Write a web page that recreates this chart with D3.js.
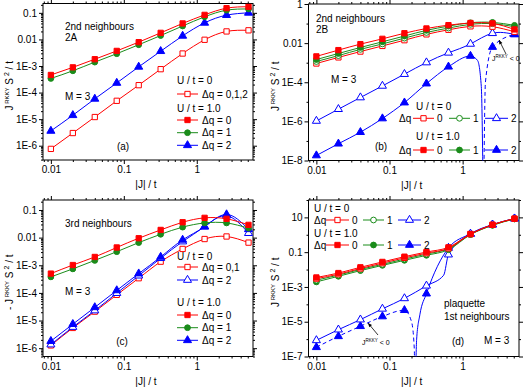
<!DOCTYPE html>
<html>
<head>
<meta charset="utf-8">
<script src="https://cdn.jsdelivr.net/npm/d3@7"></script>
<style>
  body { margin: 0; background: #fff; }
  text { font-family: "Liberation Sans", Arial, Helvetica, sans-serif; }
</style>
</head>
<body>
<div id="app"></div>
<script>
const WIDTH = 523;
const HEIGHT = 390;
const FONT_SIZE = 10;
const RED = "#ff0000";
const GREEN = "#1a8c1a";
const BLUE = "#0000ff";

// |J| / t values where the markers sit
const J = [0.01, 0.02, 0.04, 0.08, 0.16, 0.32, 0.64, 1.28, 2.56, 5.12];
const X_DOMAIN = [0.0078, 5.9];
const X_TICKS = [0.01, 0.1, 1];
const X_TICK_LABELS = ["0.01", "0.1", "1"];

// (a) 2nd neighbours 2A
const A_U0 = [7.6e-7, 3.0e-6, 1.2e-5, 4.9e-5, 1.9e-4, 7.6e-4, 2.95e-3, 9.7e-3, 0.020, 0.022];
const A_U1_Q0 = [4.6e-4, 8.9e-4, 1.8e-3, 3.7e-3, 7.9e-3, 0.0177, 0.040, 0.084, 0.15, 0.17];
const A_U1_Q1 = [3.4e-4, 6.6e-4, 1.4e-3, 2.9e-3, 6.3e-3, 0.014, 0.032, 0.071, 0.126, 0.14];
const A_U1_Q2 = [3.6e-6, 1.4e-5, 5.8e-5, 2.3e-4, 9.3e-4, 3.6e-3, 0.0136, 0.042, 0.082, 0.10];
const A_Y_TICKS = [1e-6, 1e-5, 1e-4, 1e-3, 0.01, 0.1];
const A_Y_LABELS = ["1E-6", "1E-5", "1E-4", "1E-3", "0.01", "0.1"];

// (b) 2nd neighbours 2B
const B_U0_Q0 = [9.1e-4, 1.86e-3, 3.7e-3, 7.2e-3, 0.0141, 0.028, 0.048, 0.072, 0.069, 0.038];
const B_U0_Q1 = [1.15e-3, 2.3e-3, 4.8e-3, 9.1e-3, 0.018, 0.035, 0.059, 0.091, 0.098, 0.069];
const B_U0_Q2 = [1.05e-6, 4.2e-6, 1.66e-5, 6.5e-5, 2.6e-4, 1.02e-3, 3.2e-3, 9.1e-3, 0.032, 0.028];
const B_U1_Q0 = [2.1e-3, 4.4e-3, 8.9e-3, 0.0166, 0.032, 0.056, 0.083, 0.107, 0.102, 0.050];
const B_U1_Q1 = [1.45e-3, 2.95e-3, 6.0e-3, 0.0117, 0.023, 0.045, 0.074, 0.11, 0.115, 0.081];
const B_U1_Q2_POS = [1.8e-8, 7.2e-8, 2.8e-7, 1.4e-6, 9.1e-6, 8.5e-5, 6.2e-4, 2.2e-3];
const B_U1_Q2_NEG = [6.3e-3, 0.028];
const B_DIVE_J = [1.6, 1.8, 1.9];
const B_DIVE_V = [1.3e-3, 6e-5, 1e-9];
const B_RISE_J = [1.95, 2.05];
const B_RISE_V = [1e-9, 1e-4];
const B_Y_TICKS = [1e-8, 1e-6, 1e-4, 0.01, 1];
const B_Y_LABELS = ["1E-8", "1E-6", "1E-4", "0.01", "1"];

// (c) 3rd neighbours
const C_U0_Q01 = [1.26e-6, 5.4e-6, 2.1e-5, 8.5e-5, 3.4e-4, 1.35e-3, 3.9e-3, 8.9e-3, 0.011, 6.6e-3];
const C_U0_Q2 = [1.35e-6, 5.8e-6, 2.3e-5, 9.8e-5, 4.2e-4, 1.8e-3, 7.2e-3, 0.025, 0.062, 0.0145];
const C_U1_Q0 = [5.0e-4, 1.02e-3, 2.0e-3, 4.4e-3, 9.5e-3, 0.019, 0.036, 0.052, 0.048, 0.029];
const C_U1_Q1 = [3.8e-4, 7.4e-4, 1.5e-3, 3.1e-3, 6.6e-3, 0.0132, 0.024, 0.034, 0.034, 0.022];
const C_U1_Q2 = [1.8e-6, 7.4e-6, 3.0e-5, 1.23e-4, 5.0e-4, 2.0e-3, 8.3e-3, 0.025, 0.069, 0.020];
const C_Y_TICKS = A_Y_TICKS;
const C_Y_LABELS = A_Y_LABELS;

// (d) plaquette 1st neighbours
const D_U0_Q0 = [3.0e-3, 5.4e-3, 0.0115, 0.0235, 0.047, 0.088, 0.165, 1.08, 3.7, 8.4];
const D_U0_Q1 = [2.45e-3, 4.8e-3, 0.0102, 0.020, 0.040, 0.077, 0.16, 1.05, 3.6, 8.3];
const D_U0_Q2 = [8.5e-7, 3.5e-6, 1.32e-5, 5.5e-5, 2.2e-4, 1.17e-3, 0.072, 1.12, 3.8, 8.5];
const D_U1_Q0 = [3.5e-3, 6.3e-3, 0.0135, 0.0275, 0.055, 0.102, 0.19, 1.12, 3.8, 8.5];
const D_U1_Q1 = [1.95e-3, 4.1e-3, 8.7e-3, 0.0174, 0.034, 0.066, 0.138, 1.02, 3.5, 8.1];
const D_U1_Q2_NEG = [3.4e-7, 1.45e-6, 5.5e-6, 2.0e-5, 4.6e-5];
const D_U1_Q2_POS = [4.1e-4, 0.174, 1.12, 3.8, 8.5];
const D_KINK_J = [0.55];
const D_KINK_V = [4.7e-3];
const D_DIVE_J = [0.2, 0.218, 0.222];
const D_DIVE_V = [1e-5, 3e-7, 1e-9];
const D_RISE_J = [0.226, 0.235, 0.26];
const D_RISE_V = [1e-9, 1e-6, 2.5e-5];
const D_Y_TICKS = [1e-7, 1e-5, 1e-3, 0.1, 10];
const D_Y_LABELS = ["1E-7", "1E-5", "1E-3", "0.1", "10"];

const zip = (xs, ys) => xs.map((x, i) => [x, ys[i]]);

const svg = d3
  .select("#app")
  .append("svg")
  .attr("width", WIDTH)
  .attr("height", HEIGHT)
  .attr("font-size", FONT_SIZE);

const symbols = {
  square: d3.symbol().type(d3.symbolSquare).size(28),
  circle: d3.symbol().type(d3.symbolCircle).size(26),
  triangle: d3.symbol().type(d3.symbolTriangle).size(28),
};

function drawMarkers(g, pts, x, y, color, shape, open) {
  g.append("g")
    .selectAll("path")
    .data(pts)
    .join("path")
    .attr("transform", (d) => `translate(${x(d[0])},${y(d[1])})`)
    .attr("d", symbols[shape]())
    .attr("fill", open ? "#fff" : color)
    .attr("stroke", color)
    .attr("stroke-width", 1);
}

function drawLine(g, pts, x, y, color, opts = {}) {
  const line = d3
    .line()
    .x((d) => x(d[0]))
    .y((d) => y(d[1]))
    .curve(opts.curve || d3.curveMonotoneX);
  g.append("path")
    .attr("d", line(pts))
    .attr("fill", "none")
    .attr("stroke", color)
    .attr("stroke-width", 1)
    .attr("stroke-dasharray", opts.dashed ? "4,3" : null);
}

function series(panel, vals, color, shape, open, curve) {
  const pts = zip(J, vals);
  drawLine(panel.plot, pts, panel.x, panel.y, color, { curve });
  drawMarkers(panel.plot, pts, panel.x, panel.y, color, shape, open);
}

function minorTicks(domain, majors) {
  const out = [];
  const lo = Math.floor(Math.log10(domain[0]));
  const hi = Math.ceil(Math.log10(domain[1]));
  for (let e = lo; e <= hi; e++) {
    for (let m = 1; m < 10; m++) {
      const v = m * Math.pow(10, e);
      if (v >= domain[0] && v <= domain[1] && !majors.some((t) => Math.abs(t / v - 1) < 1e-6)) out.push(v);
    }
  }
  return out;
}

function decadeTicks(domain, majors) {
  const out = [];
  for (let e = Math.ceil(Math.log10(domain[0])); e <= Math.floor(Math.log10(domain[1])); e++) {
    const v = Math.pow(10, e);
    if (!majors.some((t) => Math.abs(t / v - 1) < 1e-6)) out.push(v);
  }
  return out;
}

function makePanel(p) {
  const x = d3.scaleLog().domain(X_DOMAIN).range([p.left, p.right]);
  const y = d3.scaleLog().domain(p.yDomain).range([p.bottom, p.top]);
  const g = svg.append("g");

  const xMinor = minorTicks(X_DOMAIN, X_TICKS);
  const yMinor = p.yMinorAll ? minorTicks(p.yDomain, p.yTicks) : decadeTicks(p.yDomain, p.yTicks);

  const axes = [
    [d3.axisBottom, x, p.bottom, X_TICKS, xMinor, X_TICK_LABELS],
    [d3.axisTop, x, p.top, X_TICKS, xMinor, null],
    [d3.axisLeft, y, p.left, p.yTicks, yMinor, p.yLabels],
    [d3.axisRight, y, p.right, p.yTicks, yMinor, null],
  ];
  axes.forEach(([fn, scale, pos, majors, minors, labels]) => {
    const horiz = fn === d3.axisBottom || fn === d3.axisTop;
    const tr = horiz ? `translate(0,${pos})` : `translate(${pos},0)`;
    const major = fn(scale)
      .tickValues(majors)
      .tickSizeInner(4)
      .tickSizeOuter(0)
      .tickPadding(2)
      .tickFormat((d, i) => (labels ? labels[i] : ""));
    const minor = fn(scale).tickValues(minors).tickSizeInner(2).tickSizeOuter(0).tickFormat("");
    const ga = g.append("g").attr("transform", tr).call(major);
    const gm = g.append("g").attr("transform", tr).call(minor);
    [ga, gm].forEach((s) => {
      s.select(".domain").remove();
      s.selectAll("text").attr("font-size", FONT_SIZE).attr("fill", "#000")
        .attr("font-family", '"Liberation Sans", Arial, sans-serif');
    });
  });

  g.append("rect")
    .attr("x", p.left)
    .attr("y", p.top)
    .attr("width", p.right - p.left)
    .attr("height", p.bottom - p.top)
    .attr("fill", "none")
    .attr("stroke", "#000")
    .attr("stroke-width", 1);

  const clipId = "clip-" + p.id;
  svg.append("clipPath").attr("id", clipId).append("rect")
    .attr("x", p.left).attr("y", p.top)
    .attr("width", p.right - p.left).attr("height", p.bottom - p.top);
  const plot = g.append("g").attr("clip-path", `url(#${clipId})`);

  // axis titles
  g.append("text")
    .attr("x", (p.left + p.right) / 2 - 2)
    .attr("y", p.bottom + 28)
    .attr("text-anchor", "middle")
    .text("|J| / t");

  const t = g.append("text")
    .attr("transform", `translate(${p.left - 30},${(p.top + p.bottom) / 2 + 4}) rotate(-90)`)
    .attr("text-anchor", "middle");
  t.append("tspan").text((p.negTitle ? "- " : "") + "J");
  t.append("tspan").attr("dy", -4).attr("font-size", 6).text(" RKKY");
  t.append("tspan").attr("dy", 4).text(" S");
  t.append("tspan").attr("dy", -4).attr("font-size", 7).text(" 2");
  t.append("tspan").attr("dy", 4).text(" / t");

  return { x, y, g, plot };
}

function label(g, x, y, str, anchor) {
  g.append("text").attr("x", x).attr("y", y).attr("text-anchor", anchor || "start").text(str);
}

function legendLine(g, x1, x2, y, color, shape, open) {
  g.append("line").attr("x1", x1).attr("x2", x2).attr("y1", y).attr("y2", y)
    .attr("stroke", color).attr("stroke-width", 1);
  g.append("path")
    .attr("transform", `translate(${(x1 + x2) / 2},${y})`)
    .attr("d", symbols[shape]())
    .attr("fill", open ? "#fff" : color)
    .attr("stroke", color);
}

function rkkyNote(g, x, y, ax1, ay1, ax2, ay2) {
  const t = g.append("text").attr("x", x).attr("y", y).attr("font-size", 7);
  t.append("tspan").text("J");
  t.append("tspan").attr("dy", -3).attr("font-size", 4.5).text("RKKY");
  t.append("tspan").attr("dy", 3).text(" < 0");
  g.append("line").attr("x1", ax1).attr("y1", ay1).attr("x2", ax2).attr("y2", ay2)
    .attr("stroke", "#000").attr("stroke-width", 0.8);
  const ang = Math.atan2(ay2 - ay1, ax2 - ax1);
  const h = 4.5;
  const p1 = [ax2 - h * Math.cos(ang - 0.4), ay2 - h * Math.sin(ang - 0.4)];
  const p2 = [ax2 - h * Math.cos(ang + 0.4), ay2 - h * Math.sin(ang + 0.4)];
  g.append("path").attr("d", `M${ax2},${ay2}L${p1}L${p2}Z`).attr("fill", "#000");
}

// ---- panel (a)
const pa = makePanel({
  id: "a", left: 43, right: 253, top: 3.5, bottom: 160,
  yDomain: [2.9e-7, 0.225], yTicks: A_Y_TICKS, yLabels: A_Y_LABELS, yMinorAll: true,
});
series(pa, A_U0, RED, "square", true, d3.curveNatural);
series(pa, A_U1_Q2, BLUE, "triangle", false, d3.curveNatural);
series(pa, A_U1_Q1, GREEN, "circle", false, d3.curveNatural);
series(pa, A_U1_Q0, RED, "square", false, d3.curveNatural);
label(pa.g, 65, 30, "2nd neighbours");
label(pa.g, 65, 41, "2A");
label(pa.g, 65, 100, "M = 3");
label(pa.g, 123, 149.5, "(a)", "middle");
label(pa.g, 177, 83.5, "U / t = 0");
legendLine(pa.g, 177, 198, 94, RED, "square", true);
label(pa.g, 202, 97.5, "Δq = 0,1,2");
label(pa.g, 177, 112, "U / t = 1.0");
legendLine(pa.g, 177, 198, 120, RED, "square", false);
label(pa.g, 202, 123.5, "Δq = 0");
legendLine(pa.g, 177, 198, 132.7, GREEN, "circle", false);
label(pa.g, 202, 136.2, "Δq = 1");
legendLine(pa.g, 177, 198, 145.3, BLUE, "triangle", false);
label(pa.g, 202, 148.8, "Δq = 2");

// ---- panel (b)
const pb = makePanel({
  id: "b", left: 308.5, right: 519, top: 4, bottom: 160.5,
  yDomain: [1e-8, 1], yTicks: B_Y_TICKS, yLabels: B_Y_LABELS, yMinorAll: false,
});
series(pb, B_U0_Q2, BLUE, "triangle", true, d3.curveNatural);
{
  const pos = zip(J.slice(0, 8), B_U1_Q2_POS);
  const neg = zip(J.slice(8), B_U1_Q2_NEG);
  drawLine(pb.plot, pos.concat(zip(B_DIVE_J, B_DIVE_V)), pb.x, pb.y, BLUE);
  drawLine(pb.plot, zip(B_RISE_J, B_RISE_V).concat(neg), pb.x, pb.y, BLUE, { dashed: true });
  drawMarkers(pb.plot, pos.concat(neg), pb.x, pb.y, BLUE, "triangle", false);
}
series(pb, B_U0_Q0, RED, "square", true, d3.curveNatural);
series(pb, B_U0_Q1, GREEN, "circle", true, d3.curveNatural);
series(pb, B_U1_Q1, GREEN, "circle", false, d3.curveNatural);
series(pb, B_U1_Q0, RED, "square", false, d3.curveNatural);
label(pb.g, 316, 22, "2nd neighbours");
label(pb.g, 316, 33, "2B");
label(pb.g, 331, 82.5, "M = 3");
label(pb.g, 381, 149.5, "(b)", "middle");
label(pb.g, 416, 110, "U / t = 0");
label(pb.g, 399, 121.8, "Δq");
legendLine(pb.g, 413, 434, 118.3, RED, "square", true);
label(pb.g, 437, 121.8, "0");
legendLine(pb.g, 449, 470, 118.3, GREEN, "circle", true);
label(pb.g, 473, 121.8, "1");
legendLine(pb.g, 485, 508, 118.3, BLUE, "triangle", true);
label(pb.g, 511, 121.8, "2");
label(pb.g, 416, 140, "U / t = 1.0");
label(pb.g, 399, 153.5, "Δq");
legendLine(pb.g, 413, 434, 150, RED, "square", false);
label(pb.g, 437, 153.5, "0");
legendLine(pb.g, 449, 470, 150, GREEN, "circle", false);
label(pb.g, 473, 153.5, "1");
legendLine(pb.g, 485, 508, 150, BLUE, "triangle", false);
label(pb.g, 511, 153.5, "2");
rkkyNote(pb.g, 492, 61, 506, 54, 499, 40);

// ---- panel (c)
const pc = makePanel({
  id: "c", left: 43, right: 253, top: 200, bottom: 356.5,
  yDomain: [5e-7, 0.23], yTicks: C_Y_TICKS, yLabels: C_Y_LABELS, yMinorAll: true, negTitle: true,
});
series(pc, C_U0_Q01, RED, "square", true, d3.curveNatural);
series(pc, C_U0_Q2, BLUE, "triangle", true, d3.curveNatural);
series(pc, C_U1_Q2, BLUE, "triangle", false, d3.curveNatural);
series(pc, C_U1_Q1, GREEN, "circle", false, d3.curveNatural);
series(pc, C_U1_Q0, RED, "square", false, d3.curveNatural);
label(pc.g, 65, 227, "3rd neighbours");
label(pc.g, 65, 295, "M = 3");
label(pc.g, 122, 344.5, "(c)", "middle");
label(pc.g, 177, 260, "U / t = 0");
legendLine(pc.g, 177, 198, 267, RED, "square", true);
label(pc.g, 202, 270.5, "Δq = 0,1");
legendLine(pc.g, 177, 198, 280, BLUE, "triangle", true);
label(pc.g, 202, 283.5, "Δq = 2");
label(pc.g, 177, 306, "U / t = 1.0");
legendLine(pc.g, 177, 198, 315, RED, "square", false);
label(pc.g, 202, 318.5, "Δq = 0");
legendLine(pc.g, 177, 198, 327.7, GREEN, "circle", false);
label(pc.g, 202, 331.2, "Δq = 1");
legendLine(pc.g, 177, 198, 340.3, BLUE, "triangle", false);
label(pc.g, 202, 343.8, "Δq = 2");

// ---- panel (d)
const pd = makePanel({
  id: "d", left: 308.5, right: 519, top: 200, bottom: 356.5,
  yDomain: [1e-7, 100], yTicks: D_Y_TICKS, yLabels: D_Y_LABELS, yMinorAll: false,
});
{
  const neg = zip(J.slice(0, 5), D_U1_Q2_NEG);
  const pos = zip(J.slice(5), D_U1_Q2_POS);
  drawLine(pd.plot, neg.concat(zip(D_DIVE_J, D_DIVE_V)), pd.x, pd.y, BLUE, { dashed: true });
  drawLine(pd.plot, zip(D_RISE_J, D_RISE_V).concat(pos), pd.x, pd.y, BLUE);
  drawMarkers(pd.plot, neg.concat(pos), pd.x, pd.y, BLUE, "triangle", false);
  const open = zip(J, D_U0_Q2);
  drawLine(pd.plot, open.slice(0, 6).concat(zip(D_KINK_J, D_KINK_V), open.slice(6)), pd.x, pd.y, BLUE);
  drawMarkers(pd.plot, open, pd.x, pd.y, BLUE, "triangle", true);
}
series(pd, D_U1_Q1, GREEN, "circle", false);
series(pd, D_U0_Q1, GREEN, "circle", true);
series(pd, D_U0_Q0, RED, "square", true);
series(pd, D_U1_Q0, RED, "square", false);
label(pd.g, 314, 212, "U / t = 0");
label(pd.g, 314, 223.5, "Δq");
legendLine(pd.g, 326, 349, 220, RED, "square", true);
label(pd.g, 352, 223.5, "0");
legendLine(pd.g, 363, 384, 220, GREEN, "circle", true);
label(pd.g, 387, 223.5, "1");
legendLine(pd.g, 398, 421, 220, BLUE, "triangle", true);
label(pd.g, 424, 223.5, "2");
label(pd.g, 314, 237, "U / t = 1.0");
label(pd.g, 314, 248.5, "Δq");
legendLine(pd.g, 326, 349, 245, RED, "square", false);
label(pd.g, 352, 248.5, "0");
legendLine(pd.g, 363, 384, 245, GREEN, "circle", false);
label(pd.g, 387, 248.5, "1");
legendLine(pd.g, 398, 421, 245, BLUE, "triangle", false);
label(pd.g, 424, 248.5, "2");
label(pd.g, 444, 307, "plaquette");
label(pd.g, 444, 319.5, "1st neighbours");
label(pd.g, 458, 344.5, "(d)", "middle");
label(pd.g, 484, 343.5, "M = 3");
rkkyNote(pd.g, 362, 345, 378, 335, 368, 323);
</script>
</body>
</html>
